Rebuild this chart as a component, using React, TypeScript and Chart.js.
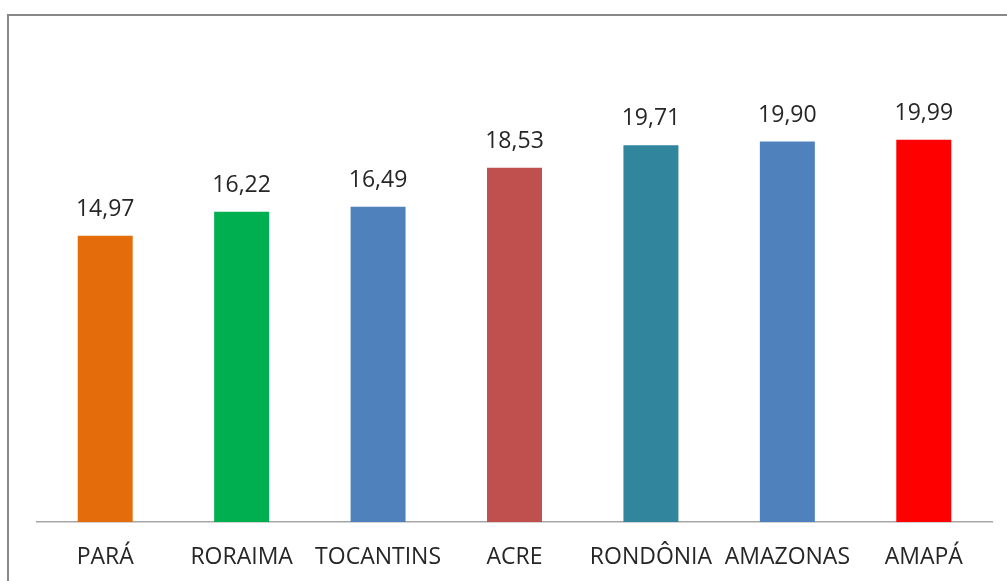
import React, { useEffect, useRef } from "react";
import { Chart, registerables } from "chart.js";

Chart.register(...registerables);

const categories = ["PARÁ", "RORAIMA", "TOCANTINS", "ACRE", "RONDÔNIA", "AMAZONAS", "AMAPÁ"];
const values = [14.97, 16.22, 16.49, 18.53, 19.71, 19.9, 19.99];
const barColors = ["#E46C0A", "#00B050", "#4F81BD", "#C0504D", "#31859C", "#4F81BD", "#FF0000"];

const FONT = "'Open Sans', sans-serif";

const framePlugin = {
  id: "frame",
  beforeDraw(chart: any) {
    const ctx = chart.ctx;
    ctx.save();
    ctx.strokeStyle = "#888888";
    ctx.lineWidth = 2;
    ctx.beginPath();
    ctx.moveTo(8, 581);
    ctx.lineTo(8, 15);
    ctx.lineTo(1007, 15);
    ctx.stroke();
    ctx.restore();
  },
};

const valueLabelPlugin = {
  id: "valueLabels",
  afterDatasetsDraw(chart: any) {
    const ctx = chart.ctx;
    const meta = chart.getDatasetMeta(0);
    ctx.save();
    ctx.font = `23px ${FONT}`;
    ctx.fillStyle = "#262626";
    ctx.textAlign = "center";
    ctx.textBaseline = "alphabetic";
    meta.data.forEach((bar: any, i: number) => {
      const txt = values[i].toFixed(2).replace(".", ",");
      ctx.fillText(txt, bar.x, bar.y - 20);
    });
    ctx.restore();
  },
};

export default function App() {
  const ref = useRef<HTMLCanvasElement>(null);
  useEffect(() => {
    if (!ref.current) return;
    const chart = new Chart(ref.current, {
      type: "bar",
      data: {
        labels: categories,
        datasets: [
          {
            data: values,
            backgroundColor: barColors,
            borderWidth: 0,
            categoryPercentage: 1,
            barPercentage: 0.403,
          },
        ],
      },
      options: {
        animation: false,
        responsive: false,
        maintainAspectRatio: false,
        layout: { padding: { left: 37, right: 15, top: 44, bottom: 0 } },
        plugins: { legend: { display: false }, tooltip: { enabled: false }, title: { display: false } },
        scales: {
          y: { display: false, min: 0, max: 25 },
          x: {
            grid: { display: false, drawTicks: false },
            border: { display: true, color: "#A6A6A6", width: 1.5 },
            ticks: { font: { family: FONT, size: 23 }, color: "#262626", padding: 22, maxRotation: 0, autoSkip: false },
            afterFit(scale: any) {
              scale.height = 59;
            },
          },
        },
      },
      plugins: [framePlugin, valueLabelPlugin],
    });
    return () => chart.destroy();
  }, []);
  return (
    <div style={{ position: "fixed", left: 0, top: 0, width: 1007, height: 581, background: "#fff" }}>
      <canvas ref={ref} width={1007} height={581} style={{ display: "block", width: 1007, height: 581 }} />
    </div>
  );
}
